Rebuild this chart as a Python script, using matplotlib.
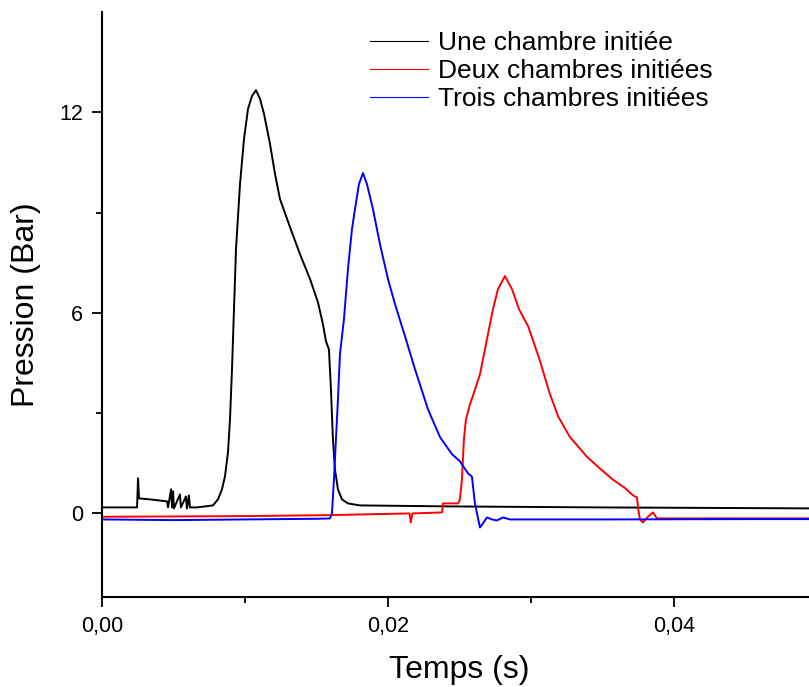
import matplotlib
matplotlib.use("Agg")
import matplotlib.pyplot as plt
from matplotlib.ticker import FuncFormatter, FixedLocator

plt.rcParams['font.family'] = ['Liberation Sans', 'DejaVu Sans']

# values: time (s), pressure (bar)
t_une = [0.0, 0.00245, 0.00252, 0.00259, 0.00336, 0.00455, 0.00462, 0.00483, 0.00490,
         0.00497, 0.00503, 0.00545, 0.00552, 0.00587, 0.00594, 0.00608, 0.00615, 0.00664,
         0.00776, 0.00811, 0.00839, 0.00860, 0.00881, 0.00895, 0.00909, 0.00937, 0.00965,
         0.00993, 0.01021, 0.01049, 0.01077, 0.01105, 0.01133, 0.01175, 0.01210, 0.01245,
         0.01315, 0.01385, 0.01455, 0.01510, 0.01545, 0.01566, 0.01587, 0.01601, 0.01615,
         0.01629, 0.01650, 0.01678, 0.01720, 0.01804, 0.02434, 0.03483, 0.0500]
p_une = [0.18, 0.18, 1.05, 0.45, 0.42, 0.36, 0.18, 0.72, 0.18,
         0.66, 0.15, 0.57, 0.18, 0.51, 0.15, 0.54, 0.18, 0.18,
         0.24, 0.42, 0.72, 1.11, 1.83, 2.81, 4.31, 7.90, 9.85,
         11.20, 12.10, 12.49, 12.66, 12.40, 11.95, 11.05, 10.15, 9.40,
         8.56, 7.75, 7.01, 6.32, 5.66, 5.15, 4.91, 3.71, 2.22,
         1.32, 0.72, 0.42, 0.30, 0.24, 0.21, 0.18, 0.15]

t_deux = [0.0, 0.010, 0.016, 0.0215, 0.0216, 0.0217, 0.02378, 0.02385, 0.02490, 0.02503,
          0.02517, 0.02531, 0.02545, 0.02573, 0.02608, 0.02643, 0.02678, 0.02713, 0.02734,
          0.02769, 0.02818, 0.02867, 0.02916, 0.02980, 0.03060, 0.03130, 0.03190, 0.03270,
          0.03390, 0.03480, 0.03570, 0.03660, 0.03713, 0.03741, 0.03750, 0.03762, 0.03783,
          0.03818, 0.03853, 0.03881, 0.04040, 0.0500]
p_deux = [-0.10, -0.08, -0.05, 0.0, -0.27, 0.0, 0.03, 0.30, 0.30, 0.42,
          1.02, 2.22, 2.81, 3.26, 3.70, 4.16, 4.91, 5.66, 6.11,
          6.71, 7.10, 6.71, 6.11, 5.60, 4.60, 3.60, 2.90, 2.30,
          1.70, 1.35, 1.02, 0.75, 0.54, 0.48, 0.12, -0.18, -0.27,
          -0.10, 0.03, -0.15, -0.15, -0.15]

t_trois = [0.0, 0.005, 0.010, 0.015, 0.01594, 0.01608, 0.01622, 0.01636, 0.01650, 0.01664,
           0.01692, 0.01720, 0.01748, 0.01769, 0.01797, 0.01825, 0.01853, 0.01895, 0.01944,
           0.02000, 0.02049, 0.02119, 0.02189, 0.02280, 0.02364, 0.02448, 0.02503, 0.02559,
           0.02587, 0.02608, 0.02643, 0.02664, 0.02692, 0.02727, 0.02762, 0.02804, 0.02853,
           0.0350, 0.0450, 0.0500]
p_trois = [-0.18, -0.20, -0.18, -0.16, -0.15, 0.0, 1.02, 2.22, 3.41, 4.76,
           5.81, 7.31, 8.50, 9.10, 9.85, 10.18, 9.85, 9.10, 8.05,
           7.01, 6.26, 5.30, 4.31, 3.11, 2.28, 1.77, 1.56, 1.20,
           1.10, 0.30, -0.42, -0.30, -0.12, -0.18, -0.21, -0.12, -0.18,
           -0.18, -0.17, -0.17]

labels = ['Une chambre initiée', 'Deux chambres initiées', 'Trois chambres initiées']

fig = plt.figure(figsize=(8.09, 6.87), dpi=100)
ax = fig.add_axes([102/809, 90/687, 715/809, 585/687])

ax.plot(t_une, p_une, color='black', lw=1.4, label=labels[0])
ax.plot(t_deux, p_deux, color='red', lw=1.4, label=labels[1])
ax.plot(t_trois, p_trois, color='blue', lw=1.4, label=labels[2])

ax.set_xlim(0, 0.05)
ax.set_ylim(-2.5, 15)

ax.spines['top'].set_visible(False)
ax.spines['right'].set_visible(False)
for s in ['left', 'bottom']:
    ax.spines[s].set_linewidth(1.5)

ax.xaxis.set_major_locator(FixedLocator([0.0, 0.02, 0.04]))
ax.xaxis.set_minor_locator(FixedLocator([0.01, 0.03]))
ax.yaxis.set_major_locator(FixedLocator([0, 6, 12]))
ax.yaxis.set_minor_locator(FixedLocator([3, 9]))
ax.xaxis.set_major_formatter(FuncFormatter(lambda v, p: f'{v:.2f}'.replace('.', ',')))
ax.yaxis.set_major_formatter(FuncFormatter(lambda v, p: f'{v:.0f}'))

ax.tick_params(which='major', direction='out', length=7.5, width=1.3, labelsize=15.5, pad=6)
ax.tick_params(which='minor', direction='out', length=4, width=1.3)

ax.set_xlabel('Temps (s)', fontsize=23, labelpad=13)
ax.set_ylabel('Pression (Bar)', fontsize=23, labelpad=13)

leg = ax.legend(loc='upper left', bbox_to_anchor=(370/809, 1 - 31/687),
                bbox_transform=fig.transFigure, frameon=False, fontsize=19,
                handlelength=2.2, handletextpad=0.38, labelspacing=0.16,
                borderpad=0, borderaxespad=0)
for h in leg.get_lines():
    h.set_linewidth(0.8)

fig.savefig('out.png', dpi=100)
